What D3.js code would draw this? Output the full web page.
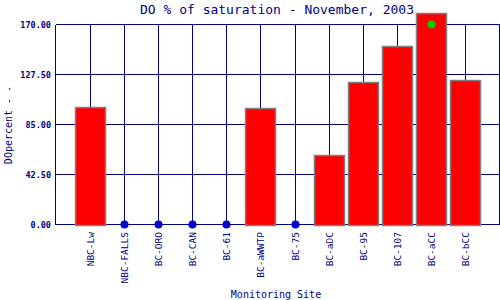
<!DOCTYPE html>
<html><head><meta charset="utf-8">
<script src="https://cdn.jsdelivr.net/npm/d3@7"></script>
<style>body{margin:0;background:#fff}svg{display:block}</style>
</head><body><div id="c"></div>
<script>
const sites = ["NBC-Lw","NBC-FALLS","BC-ORO","BC-CAN","BC-61","BC-aWWTP","BC-75","BC-aDC","BC-95","BC-107","BC-aCC","BC-bCC"];
const values = [100.3, null, null, null, null, 99.2, null, 59.2, 121.3, 151.9, 180.2, 123.0];
const markerValues = [null, null, null, null, null, null, null, null, null, null, 170, null];
const yTicks = [0, 42.5, 85, 127.5, 170];

const W = 500, H = 300;
const navy = "#000080";
const svg = d3.select("#c").append("svg").attr("width", W).attr("height", H);

const x = d3.scalePoint().domain(sites).range([55.5, 499.5]).padding(1);
const y = d3.scaleLinear().domain([0, 170]).range([224.5, 24.5]);

const g = svg.append("g").attr("shape-rendering", "crispEdges");
// horizontal grid
g.selectAll("line.h").data(yTicks).join("line")
  .attr("x1", 55.5).attr("x2", 499.5)
  .attr("y1", d => y(d)).attr("y2", d => y(d))
  .attr("stroke", navy).attr("stroke-width", 1);
// vertical grid
g.selectAll("line.v").data(sites).join("line")
  .attr("x1", d => Math.round(x(d)) + 0.5).attr("x2", d => Math.round(x(d)) + 0.5)
  .attr("y1", y(0)).attr("y2", y(170))
  .attr("stroke", navy);
// frame left/right
[55.5, 499.5].forEach(xx => g.append("line").attr("x1", xx).attr("x2", xx)
  .attr("y1", y(0)).attr("y2", y(170)).attr("stroke", navy));

// bars
const bw = 30;
const barData = sites.map((s, i) => ({s, v: values[i], m: markerValues[i]}));
svg.append("g").selectAll("rect").data(barData.filter(d => d.v != null)).join("rect")
  .attr("x", d => Math.round(x(d.s)) - bw / 2 + 0.5)
  .attr("y", d => Math.round(y(d.v)) + 0.5)
  .attr("width", bw)
  .attr("height", d => Math.round(y(0)) - Math.round(y(d.v)))
  .attr("fill", "#ff0000").attr("stroke", "#808080").attr("stroke-width", 1.5);

// missing value dots
svg.append("g").selectAll("circle").data(barData.filter(d => d.v == null)).join("circle")
  .attr("cx", d => Math.round(x(d.s)) + 0.5).attr("cy", y(0))
  .attr("r", 4).attr("fill", "#0000cc");
// green markers
svg.append("g").selectAll("circle").data(barData.filter(d => d.m != null)).join("circle")
  .attr("cx", d => Math.round(x(d.s)) + 0.5).attr("cy", d => y(d.m))
  .attr("r", 4).attr("fill", "#00cc00");

const mono = "'DejaVu Sans Mono', 'Liberation Mono', monospace";
// y tick labels
svg.append("g").selectAll("text").data(yTicks).join("text")
  .attr("x", 51).attr("y", d => y(d) + 3)
  .attr("text-anchor", "end").attr("font-family", mono).attr("font-size", 8.5)
  .attr("font-weight", "bold").attr("fill", navy)
  .text(d => d.toFixed(2));

// x tick labels
svg.append("g").selectAll("text").data(sites).join("text")
  .attr("transform", d => `translate(${Math.round(x(d)) + 3.5},232) rotate(-90)`)
  .attr("text-anchor", "end").attr("font-family", mono).attr("font-size", 9.5)
  .attr("fill", navy).text(d => d);

// titles
svg.append("text").attr("x", 277).attr("y", 14).attr("text-anchor", "middle")
  .attr("font-family", mono).attr("font-size", 13).attr("fill", navy)
  .text("DO % of saturation - November, 2003");
svg.append("text").attr("x", 276).attr("y", 298).attr("text-anchor", "middle")
  .attr("font-family", mono).attr("font-size", 10).attr("fill", navy)
  .text("Monitoring Site");
svg.append("text").attr("transform", "translate(12,125) rotate(-90)").attr("text-anchor", "middle")
  .attr("font-family", mono).attr("font-size", 10).attr("fill", navy)
  .text("DOpercent - -");
</script></body></html>
